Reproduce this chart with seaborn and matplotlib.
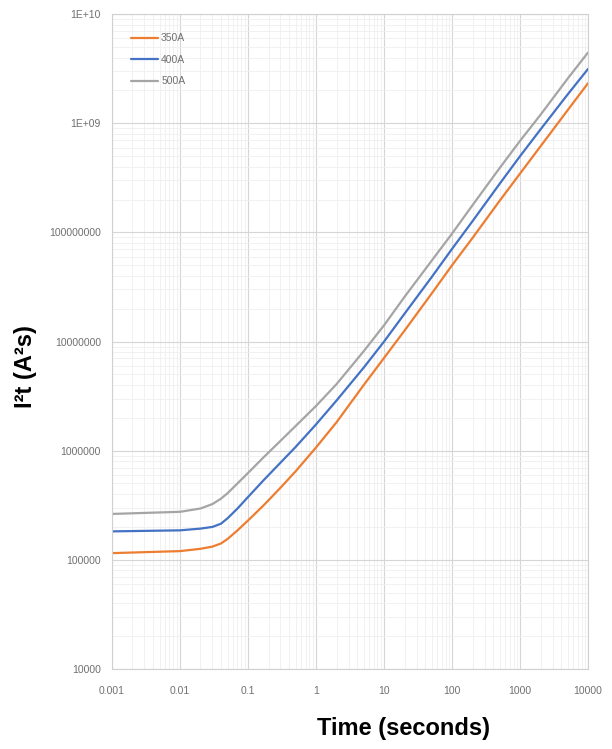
import numpy as np
import pandas as pd
import matplotlib
matplotlib.use("Agg")
import matplotlib.pyplot as plt
from matplotlib.ticker import LogLocator, FixedLocator, NullFormatter
import seaborn as sns

# Time points (s) and I²t let-through values (A²s) per fuse rating
time_s = [0.001, 0.01, 0.02, 0.03, 0.04, 0.05, 0.07, 0.1, 0.17, 0.3, 0.5,
          1, 2, 5, 10, 20, 50, 100, 200, 500, 1000, 2000, 5000, 10000]
i2t_350a = [1.15e5, 1.20e5, 1.26e5, 1.32e5, 1.41e5, 1.55e5, 1.86e5, 2.29e5,
            3.16e5, 4.57e5, 6.46e5, 1.07e6, 1.82e6, 3.98e6, 7.08e6, 1.26e7,
            2.75e7, 5.01e7, 8.91e7, 1.95e8, 3.47e8, 6.17e8, 1.32e9, 2.34e9]
i2t_400a = [1.82e5, 1.86e5, 1.93e5, 2.00e5, 2.14e5, 2.40e5, 2.95e5, 3.76e5,
            5.37e5, 7.76e5, 1.08e6, 1.74e6, 2.88e6, 5.75e6, 1.00e7, 1.80e7,
            3.89e7, 7.08e7, 1.27e8, 2.79e8, 5.01e8, 8.81e8, 1.84e9, 3.16e9]
i2t_500a = [2.63e5, 2.75e5, 2.95e5, 3.24e5, 3.63e5, 4.07e5, 5.01e5, 6.24e5,
            8.71e5, 1.23e6, 1.68e6, 2.57e6, 4.07e6, 8.13e6, 1.41e7, 2.57e7,
            5.50e7, 9.77e7, 1.78e8, 3.89e8, 6.92e8, 1.20e9, 2.57e9, 4.47e9]
ratings = ["350A", "400A", "500A"]

x_ticks = [0.001, 0.01, 0.1, 1, 10, 100, 1000, 10000]
x_tick_labels = ["0.001", "0.01", "0.1", "1", "10", "100", "1000", "10000"]
y_ticks = [1e4, 1e5, 1e6, 1e7, 1e8, 1e9, 1e10]
y_tick_labels = ["10000", "100000", "1000000", "10000000", "100000000",
                 "1E+09", "1E+10"]

df = pd.concat([
    pd.DataFrame({"time": time_s, "i2t": vals, "rating": name})
    for name, vals in zip(ratings, [i2t_350a, i2t_400a, i2t_500a])
])

sns.set_theme(style="white")
plt.rcParams["font.family"] = ["Liberation Sans", "DejaVu Sans"]

fig = plt.figure(figsize=(6.12, 7.49), dpi=100)
ax = fig.add_axes([0.183, 0.107, 0.778, 0.874])

palette = {"350A": "#ED7D31", "400A": "#4472C4", "500A": "#A5A5A5"}
sns.lineplot(data=df, x="time", y="i2t", hue="rating", palette=palette,
             linewidth=1.6, ax=ax, sort=True)

ax.set_xscale("log")
ax.set_yscale("log")
ax.set_xlim(0.001, 10000)
ax.set_ylim(1e4, 1e10)

ax.xaxis.set_major_locator(FixedLocator(x_ticks))
ax.set_xticklabels(x_tick_labels)
ax.yaxis.set_major_locator(FixedLocator(y_ticks))
ax.set_yticklabels(y_tick_labels)
ax.xaxis.set_minor_locator(LogLocator(base=10, subs=np.arange(2, 10), numticks=20))
ax.yaxis.set_minor_locator(LogLocator(base=10, subs=np.arange(2, 10), numticks=20))
ax.xaxis.set_minor_formatter(NullFormatter())
ax.yaxis.set_minor_formatter(NullFormatter())

ax.grid(which="major", color="#d6d6d6", linewidth=0.8)
ax.grid(which="minor", color="#efefef", linewidth=0.6)
ax.set_axisbelow(True)
for s in ax.spines.values():
    s.set_color("#d0d0d0")
    s.set_linewidth(0.8)

ax.tick_params(axis="both", which="both", length=0, colors="#707070",
               labelsize=7.5)
ax.tick_params(axis="x", pad=12)
ax.tick_params(axis="y", pad=8)

ax.set_xlabel("")
ax.set_ylabel("")
fig.text(0.660, 0.027, "Time (seconds)", ha="center", va="center",
         fontsize=17, fontweight="bold", color="black")
fig.text(0.042, 0.51, "I²t (A²s)", ha="center", va="center", rotation=90,
         fontsize=17, fontweight="bold", color="black")

leg = ax.legend(loc="upper left", bbox_to_anchor=(0.02, 0.985), frameon=False,
                fontsize=7.5, handlelength=2.6, handletextpad=0.3,
                labelspacing=1.1, title=None)
for t in leg.get_texts():
    t.set_color("#707070")

fig.savefig("out.png", dpi=100)
